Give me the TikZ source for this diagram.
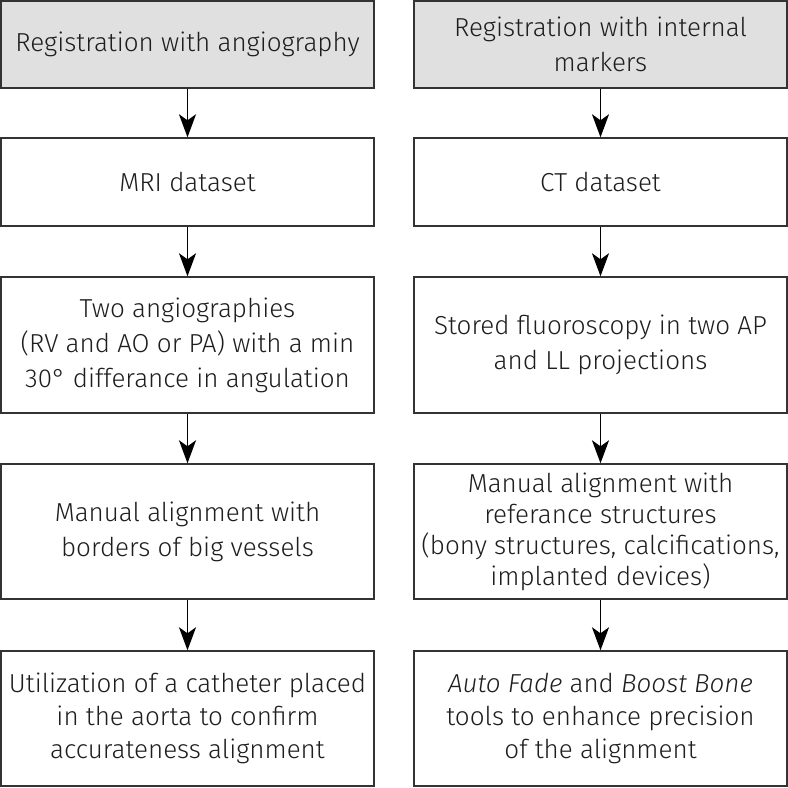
\documentclass[tikz,border=0pt]{standalone}
\usepackage{fontspec}
\setmainfont{Fira Sans}[UprightFont={* Light},ItalicFont={* Light Italic}]
\usetikzlibrary{arrows.meta}
\definecolor{boxgray}{HTML}{E0E0E0}
\definecolor{edge}{HTML}{333333}
\definecolor{txt}{HTML}{1E1E1E}
\begin{document}
\begin{tikzpicture}[x=1pt,y=-1pt,
  box/.style={draw=edge,line width=1.4pt,minimum width=373pt,align=center,
    text=txt,font=\fontsize{26}{35}\selectfont,inner sep=0pt,fill=white},
  headbox/.style={box,fill=boxgray},
  flow/.style={line width=1.8pt,-{Stealth[length=23pt,width=17pt,inset=6pt]}}]
\useasboundingbox (0,0) rectangle (788,788);
% left column
\node[headbox,minimum height=87pt] (l1) at (187.5,44.5) {Registration with angiography};
\node[box,minimum height=88pt] (l2) at (187.5,182) {MRI dataset};
\node[box,minimum height=136pt] (l3) at (187.5,345) {Two angiographies\\(RV and AO or PA) with a min\\30° differance in angulation};
\node[box,minimum height=135pt] (l4) at (187.5,531.5) {Manual alignment with\\borders of big vessels};
\node[box,minimum height=135pt,font=\fontsize{26}{33}\selectfont] (l5) at (187.5,718.5) {Utilization of a catheter placed\\in the aorta to confirm\\accurateness alignment};
% right column
\node[headbox,minimum height=87pt] (r1) at (600.5,44.5) {Registration with internal\\markers};
\node[box,minimum height=88pt] (r2) at (600.5,182) {CT dataset};
\node[box,minimum height=136pt] (r3) at (600.5,345) {Stored fluoroscopy in two AP\\and LL projections};
\node[box,minimum height=135pt,font=\fontsize{26}{31}\selectfont] (r4) at (600.5,531.5) {Manual alignment with\\referance structures\\(bony structures, calcifications,\\implanted devices)};
\node[box,minimum height=135pt,font=\fontsize{26}{33}\selectfont] (r5) at (600.5,718.5) {\textit{Auto Fade} and \textit{Boost Bone}\\tools to enhance precision\\of the alignment};
% arrows
\foreach \a/\b in {l1/l2,l2/l3,l3/l4,l4/l5,r1/r2,r2/r3,r3/r4,r4/r5}
  \draw[flow] (\a.south) -- (\b.north);
\end{tikzpicture}
\end{document}
